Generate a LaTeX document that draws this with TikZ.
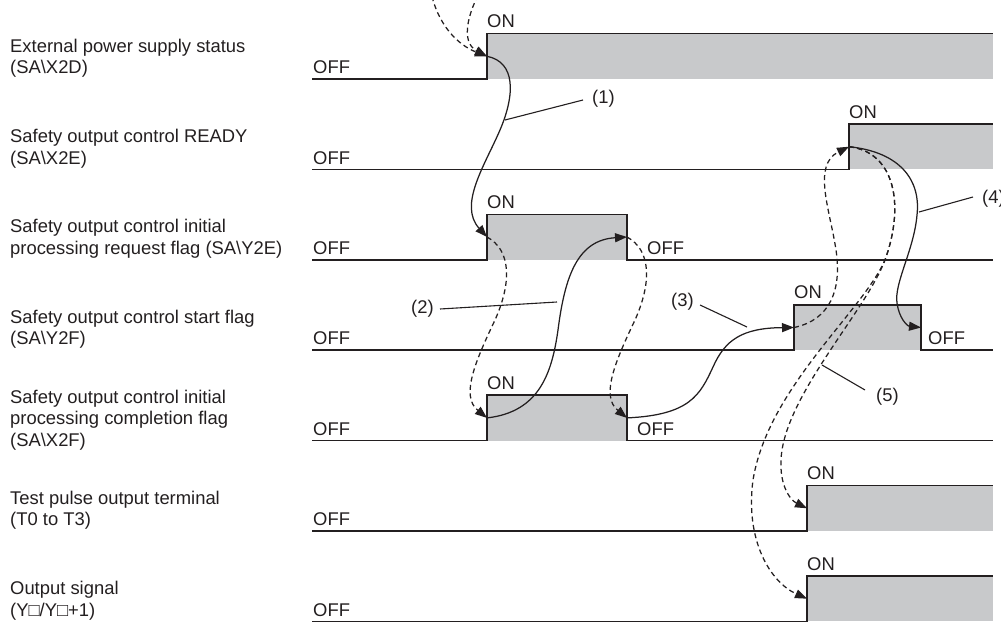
\documentclass[tikz,border=0pt]{standalone}
\usepackage{fontspec}
\setmainfont{Liberation Sans}
\usetikzlibrary{arrows.meta}
\definecolor{ink}{HTML}{231F20}
\definecolor{onfill}{HTML}{C8C9CB}
\begin{document}
\begin{tikzpicture}[x=1pt,y=-1pt,
  txt/.style={anchor=base west,inner sep=0pt,text=ink,font=\fontsize{18.4}{21}\selectfont},
  sig/.style={draw=ink,line width=1.6pt,line join=miter},
  onbox/.style={fill=onfill},
  tip/.style={-{Triangle[length=12pt,width=9pt]}},
  flow/.style={draw=ink,line width=1.25pt,tip},
  dflow/.style={draw=ink,line width=1.25pt,dash pattern=on 5pt off 3.5pt,tip},
  leader/.style={draw=ink,line width=1.1pt}]
\useasboundingbox (0,0) rectangle (1001,621);
\clip (0,0) rectangle (1001,621);

% ---- row labels ----
\node[txt] (a1) at (10,52) {External power supply status};
\node[txt] (a2) at (10,73.5) {(SA\textbackslash X2D)};
\node[txt] (b1) at (10,142.5) {Safety output control READY};
\node[txt] (b2) at (10,164) {(SA\textbackslash X2E)};
\node[txt] (c1) at (10,232.5) {Safety output control initial};
\node[txt] (c2) at (10,254) {processing request flag (SA\textbackslash Y2E)};
\node[txt] (d1) at (10,323) {Safety output control start flag};
\node[txt] (d2) at (10,344.5) {(SA\textbackslash Y2F)};
\node[txt] (e1) at (10,403) {Safety output control initial};
\node[txt] (e2) at (10,424.5) {processing completion flag};
\node[txt] (e3) at (10,446) {(SA\textbackslash X2F)};
\node[txt] (f1) at (10,504) {Test pulse output terminal};
\node[txt] (f2) at (10,525.5) {(T0 to T3)};
\node[txt] (g1) at (10,594.5) {Output signal};
\node[txt] (g2) at (10,616) {(Y□/Y□+1)};

% ---- OFF labels (left) ----
\node[txt] (o1) at (313,73.5) {OFF};
\node[txt] (o2) at (313,164) {OFF};
\node[txt] (o3) at (313,254) {OFF};
\node[txt] (o4) at (313,344.5) {OFF};
\node[txt] (o5) at (313,435) {OFF};
\node[txt] (o6) at (313,525.5) {OFF};
\node[txt] (o7) at (313,616) {OFF};

% ---- waveforms ----
% row 1
\fill[onbox] (487,33.5) rectangle (993,79);
\draw[sig] (312,79) -- (487,79) -- (487,33.5) -- (993,33.5);
\node[txt] (on1) at (487,27.5) {ON};
% row 2
\fill[onbox] (849,124) rectangle (993,169.4);
\draw[sig] (312,169.4) -- (849,169.4) -- (849,124) -- (993,124);
\node[txt] (on2) at (849,118) {ON};
% row 3
\fill[onbox] (487,214.3) rectangle (627,259.8);
\draw[sig] (312,259.8) -- (487,259.8) -- (487,214.3) -- (627,214.3) -- (627,259.8) -- (993,259.8);
\node[txt] (on3) at (487,208.3) {ON};
\node[txt] (off3) at (647,254) {OFF};
% row 4
\fill[onbox] (794,304.7) rectangle (921,350.2);
\draw[sig] (312,350.2) -- (794,350.2) -- (794,304.7) -- (921,304.7) -- (921,350.2) -- (993,350.2);
\node[txt] (on4) at (794,298.7) {ON};
\node[txt] (off4) at (928,344.5) {OFF};
% row 5
\fill[onbox] (487,395.1) rectangle (627,440.6);
\draw[sig] (312,440.6) -- (487,440.6) -- (487,395.1) -- (627,395.1) -- (627,440.6) -- (993,440.6);
\node[txt] (on5) at (487,389.1) {ON};
\node[txt] (off5) at (637,435) {OFF};
% row 6
\fill[onbox] (807,485.5) rectangle (993,531);
\draw[sig] (312,531) -- (807,531) -- (807,485.5) -- (993,485.5);
\node[txt] (on6) at (807,479.5) {ON};
% row 7
\fill[onbox] (807,576) rectangle (993,621.4);
\draw[sig] (312,621.4) -- (807,621.4) -- (807,576) -- (993,576);
\node[txt] (on7) at (807,570) {ON};

% ---- edge points ----
\coordinate (r1) at (487,56.3);
\coordinate (r2) at (849,146.7);
\coordinate (r3) at (487,237);
\coordinate (f3) at (627,237);
\coordinate (r4) at (794,327.5);
\coordinate (f4) at (921,327.5);
\coordinate (r5) at (487,417.9);
\coordinate (f5) at (627,417.9);
\coordinate (r6) at (807,508.3);
\coordinate (r7) at (807,598.7);
\coordinate (top1) at (430,-12);
\coordinate (top2) at (482,-12);

% ---- connectors ----
\draw[dflow] (top1) .. controls (437,25) and (458,45) .. (r1);
\draw[dflow] (top2) .. controls (468,12) and (460,42) .. (r1);
% (1)
\draw[flow] (r1) .. controls (516,62) and (515,95) .. (500,130)
                 .. controls (485,165) and (458,205) .. (r3);
\draw[dflow] (r3) .. controls (511,250) and (512,282) .. (495,320)
                  .. controls (476,360) and (460,396) .. (r5);
% (2)
\draw[flow] (r5) .. controls (540,412) and (552,372) .. (558,330)
                 .. controls (565,275) and (578,240) .. (f3);
\draw[dflow] (f3) .. controls (651,250) and (652,282) .. (635,320)
                  .. controls (616,360) and (600,396) .. (f5);
% (3)
\draw[flow] (f5) .. controls (690,415) and (700,395) .. (713,367)
                 .. controls (725,340) and (742,328) .. (r4);
\draw[dflow] (r4) .. controls (830,320) and (842,290) .. (836,250)
                  .. controls (830,210) and (812,165) .. (r2);
% (4)
\draw[flow] (r2) .. controls (900,152) and (921,180) .. (917,215)
                 .. controls (914,250) and (894,283) .. (897,303)
                 .. controls (899,318) and (907,326) .. (f4);
% (5)
\draw[dflow] (r2) .. controls (895,152) and (905,205) .. (885,260)
                  .. controls (866,310) and (792,388) .. (782,450)
                  .. controls (777,483) and (790,500) .. (r6);
\draw[dflow] (r2) .. controls (895,152) and (905,205) .. (885,260)
                  .. controls (862,312) and (768,388) .. (753,480)
                  .. controls (745,540) and (770,582) .. (r7);

% ---- step labels and leaders ----
\node[txt] (n1) at (592,103.5) {(1)};
\coordinate (n1c) at (505,120);
\draw[leader] (583,100) -- (n1c);
\node[txt] (n2) at (411,313.5) {(2)};
\coordinate (n2c) at (557,302);
\draw[leader] (440,309) -- (n2c);
\node[txt] (n3) at (671,306) {(3)};
\coordinate (n3c) at (747,327);
\draw[leader] (700,305) -- (n3c);
\node[txt] (n4) at (982,203.5) {(4)};
\coordinate (n4c) at (919,212);
\draw[leader] (973,197) -- (n4c);
\node[txt] (n5) at (876,401.5) {(5)};
\coordinate (n5c) at (822,365);
\draw[leader] (865,390) -- (n5c);
\end{tikzpicture}
\end{document}
